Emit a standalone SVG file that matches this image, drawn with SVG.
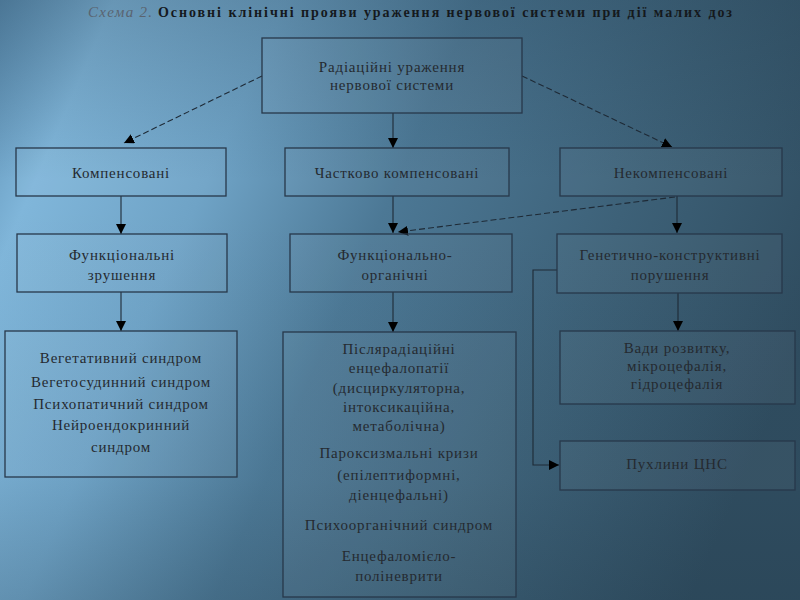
<svg xmlns="http://www.w3.org/2000/svg" width="800" height="600" viewBox="0 0 800 600">
<defs>
<linearGradient id="bg" x1="0" y1="0" x2="800" y2="350" gradientUnits="userSpaceOnUse">
<stop offset="0" stop-color="#5a8cb0"/>
<stop offset="0.12" stop-color="#80b6da"/>
<stop offset="0.3" stop-color="#6fa3c6"/>
<stop offset="0.5" stop-color="#4c7895"/>
<stop offset="0.75" stop-color="#3d6178"/>
<stop offset="1" stop-color="#2f4c5f"/>
</linearGradient>
<linearGradient id="shade" x1="0" y1="0" x2="0" y2="600" gradientUnits="userSpaceOnUse">
<stop offset="0" stop-color="#1d3444" stop-opacity="0.25"/>
<stop offset="0.3" stop-color="#1d3444" stop-opacity="0"/>
<stop offset="0.8" stop-color="#1d3444" stop-opacity="0.02"/>
<stop offset="1" stop-color="#1d3444" stop-opacity="0.18"/>
</linearGradient>
<marker id="ah" viewBox="0 0 10 10" refX="10" refY="5" markerWidth="10" markerHeight="10" markerUnits="userSpaceOnUse" orient="auto">
<path d="M0,0 L10,5 L0,10 Z" fill="#000"/>
</marker>
<style>
.box{fill:#ffffff;fill-opacity:0.04;stroke:#27384a;stroke-width:1.3}
.t{font-family:"Liberation Serif","Times New Roman",serif;font-size:15px;fill:#252a30;text-anchor:middle;letter-spacing:0.8px}
.c{fill:none;stroke:#1e2a36;stroke-width:1.1}
.d{fill:none;stroke:#1e2a36;stroke-width:1.1;stroke-dasharray:6,3}
</style>
</defs>
<rect width="800" height="600" fill="url(#bg)"/>
<rect width="800" height="600" fill="url(#shade)"/>
<text x="88" y="17" font-family="Liberation Serif,serif" font-size="14" fill="#3a4650"><tspan font-style="italic" fill="#5a6470" font-size="15" textLength="64" lengthAdjust="spacing">Схема 2.</tspan><tspan x="158" font-weight="bold" fill="#15191d" textLength="574" lengthAdjust="spacing">Основні клінічні прояви ураження нервової системи при дії малих доз</tspan></text>

<g id="connectors">
<path class="d" d="M262,76 L124,143" marker-end="url(#ah)"/>
<path class="c" d="M393,113 L393,148" marker-end="url(#ah)"/>
<path class="d" d="M522,76 L672,147" marker-end="url(#ah)"/>
<path class="c" d="M121,196 L121,234" marker-end="url(#ah)"/>
<path class="c" d="M393,196 L393,233" marker-end="url(#ah)"/>
<path class="c" d="M677,196 L677,233" marker-end="url(#ah)"/>
<path class="d" d="M675,197 L398,232" marker-end="url(#ah)"/>
<path class="c" d="M121,292 L121,331" marker-end="url(#ah)"/>
<path class="c" d="M393,292 L393,332" marker-end="url(#ah)"/>
<path class="c" d="M678,293 L678,331" marker-end="url(#ah)"/>
<path class="c" d="M557,270 L533,270 L533,465 L559,465" marker-end="url(#ah)"/>
</g>

<g id="n-root"><rect class="box" x="262" y="38" width="260" height="75"/>
<text class="t" x="392" y="72">Радіаційні ураження</text>
<text class="t" x="392" y="90">нервової системи</text></g>

<g id="n-comp"><rect class="box" x="16" y="148" width="210" height="48"/>
<text class="t" x="121" y="178">Компенсовані</text></g>
<g id="n-part"><rect class="box" x="285" y="148" width="224" height="48"/>
<text class="t" x="397" y="178">Частково компенсовані</text></g>
<g id="n-uncomp"><rect class="box" x="560" y="148" width="222" height="48"/>
<text class="t" x="671" y="178">Некомпенсовані</text></g>

<g id="n-func"><rect class="box" x="17" y="234" width="210" height="58"/>
<text class="t" x="122" y="260">Функціональні</text>
<text class="t" x="122" y="280">зрушення</text></g>
<g id="n-funcorg"><rect class="box" x="290" y="234" width="222" height="58"/>
<text class="t" x="395" y="260">Функціонально-</text>
<text class="t" x="395" y="280">органічні</text></g>
<g id="n-gen"><rect class="box" x="557" y="234" width="225" height="59"/>
<text class="t" x="670" y="260">Генетично-конструктивні</text>
<text class="t" x="670" y="280">порушення</text></g>

<g id="n-veg"><rect class="box" x="5" y="331" width="232" height="146"/>
<text class="t" x="121" y="363">Вегетативний синдром</text>
<text class="t" x="121" y="387">Вегетосудинний синдром</text>
<text class="t" x="121" y="409">Психопатичний синдром</text>
<text class="t" x="121" y="430">Нейроендокринний</text>
<text class="t" x="121" y="452">синдром</text></g>

<g id="n-post"><rect class="box" x="283" y="332" width="233" height="265"/>
<text class="t" x="399" y="354">Післярадіаційні</text>
<text class="t" x="399" y="373">енцефалопатії</text>
<text class="t" x="399" y="393">(дисциркуляторна,</text>
<text class="t" x="399" y="412">інтоксикаційна,</text>
<text class="t" x="399" y="431">метаболічна)</text>
<text class="t" x="399" y="458">Пароксизмальні кризи</text>
<text class="t" x="399" y="480">(епілептиформні,</text>
<text class="t" x="399" y="500">діенцефальні)</text>
<text class="t" x="399" y="530">Психоорганічний синдром</text>
<text class="t" x="399" y="561">Енцефаломієло-</text>
<text class="t" x="399" y="581">поліневрити</text></g>

<g id="n-vady"><rect class="box" x="560" y="331" width="235" height="73"/>
<text class="t" x="677" y="353">Вади розвитку,</text>
<text class="t" x="677" y="371">мікроцефалія,</text>
<text class="t" x="677" y="389">гідроцефалія</text></g>
<g id="n-tumor"><rect class="box" x="560" y="441" width="235" height="49"/>
<text class="t" x="677" y="469">Пухлини ЦНС</text></g>
</svg>
